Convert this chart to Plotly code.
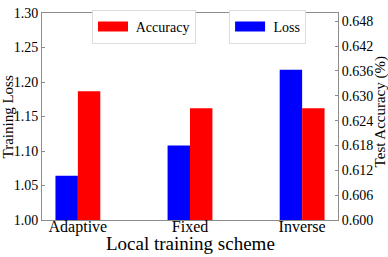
import plotly.graph_objects as go

categories = ["Adaptive", "Fixed", "Inverse"]
loss_values = [1.064, 1.108, 1.218]
accuracy_values = [0.6311, 0.6270, 0.6270]
loss_ticks = [1.00, 1.05, 1.10, 1.15, 1.20, 1.25, 1.30]
acc_ticks = [0.600, 0.606, 0.612, 0.618, 0.624, 0.630, 0.636, 0.642, 0.648]

FONT = "Liberation Serif"
AX = "#8c8c8c"

fig = go.Figure()
fig.add_trace(go.Bar(x=categories, y=loss_values, name="Loss", marker=dict(color="#0000ff", line=dict(width=0)),
                     width=0.2, offset=-0.2, yaxis="y", showlegend=False))
fig.add_trace(go.Bar(x=categories, y=accuracy_values, name="Accuracy", marker=dict(color="#ff0000", line=dict(width=0)),
                     width=0.2, offset=0.0, yaxis="y2", showlegend=False))
# legend entries (wide patches like the reference)
fig.add_trace(go.Scatter(x=[None], y=[None], mode="lines", name=" Accuracy",
                         line=dict(color="#ff0000", width=10), legend="legend"))
fig.add_trace(go.Scatter(x=[None], y=[None], mode="lines", name=" Loss",
                         line=dict(color="#0000ff", width=10), legend="legend2"))

legend_style = dict(bgcolor="white", bordercolor="#dddddd", borderwidth=1,
                    font=dict(family=FONT, size=14, color="black"),
                    xanchor="left", yanchor="top", itemwidth=30,
                    tracegroupgap=0)

fig.update_layout(
    width=388, height=257,
    margin=dict(l=42, r=50, t=6, b=37),
    paper_bgcolor="white", plot_bgcolor="white",
    font=dict(family=FONT, color="black"),
    xaxis=dict(range=[-0.32, 2.32], showline=True, linecolor=AX, linewidth=1, mirror=True,
               ticks="", tickfont=dict(size=16, family=FONT), ticklabelstandoff=-8),
    yaxis=dict(range=[1.0, 1.3001], tickvals=loss_ticks, tickformat=".2f", showgrid=False, zeroline=False,
               showline=True, linecolor=AX, linewidth=1, ticks="inside", ticklen=3, tickcolor=AX,
               tickfont=dict(size=14, family=FONT), ticklabeloverflow="allow"),
    yaxis2=dict(range=[0.6, 0.65001], tickvals=acc_ticks, tickformat=".3f", overlaying="y", side="right",
                showgrid=False, zeroline=False, showline=True, linecolor=AX, linewidth=1,
                ticks="inside", ticklen=3, tickcolor=AX, tickfont=dict(size=14, family=FONT),
                ticklabeloverflow="allow"),
    legend=dict(x=0.169, y=1.015, **legend_style),
    legend2=dict(x=0.632, y=1.015, **legend_style),
    annotations=[
        dict(text="Local training scheme", xref="paper", yref="paper", x=0.5, y=-0.175,
             xanchor="center", yanchor="bottom", showarrow=False, font=dict(size=19, family=FONT)),
        dict(text="Training Loss", xref="paper", yref="paper", x=-0.115, y=0.5, textangle=-90,
             xanchor="center", yanchor="middle", showarrow=False, font=dict(size=15, family=FONT)),
        dict(text="Test Accuracy (%)", xref="paper", yref="paper", x=1.142, y=0.52, textangle=-90,
             xanchor="center", yanchor="middle", showarrow=False, font=dict(size=15, family=FONT)),
    ],
)

fig.write_html("out.html", config={"displayModeBar": False},
               post_script="document.body.style.margin='0';document.body.style.overflow='hidden';")
